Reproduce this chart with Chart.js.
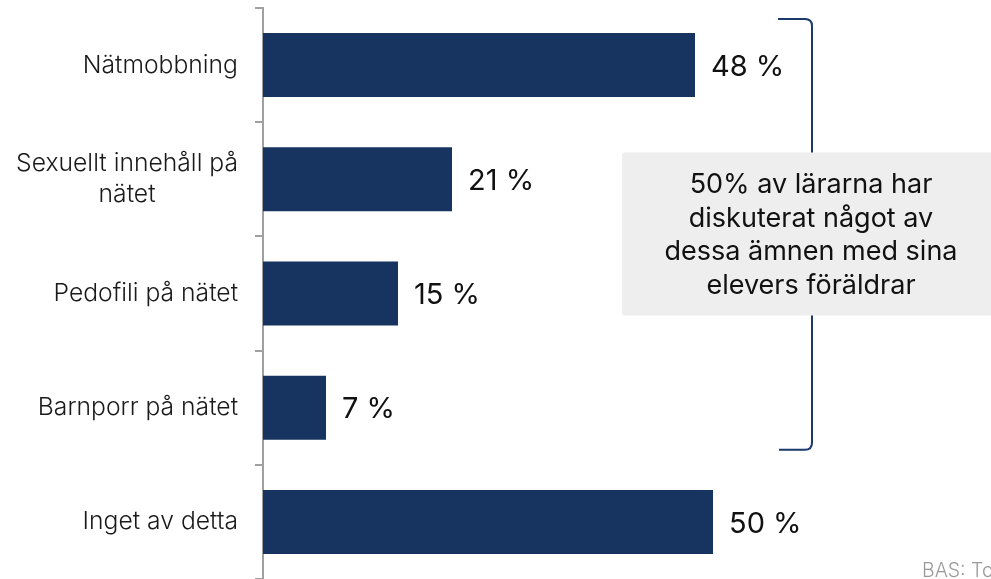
<!DOCTYPE html>
<html>
<head>
<meta charset="utf-8">
<script src="https://cdn.jsdelivr.net/npm/chart.js@4/dist/chart.umd.min.js"></script>
<style>
  html, body { margin: 0; padding: 0; background: #fff; }
  #wrap { width: 991px; height: 579px; position: relative; }
</style>
</head>
<body>
<div id="wrap"><canvas id="c"></canvas></div>
<script>
const categories = [
    ["Nätmobbning"],
    ["Sexuellt innehåll på", "nätet"],
    ["Pedofili på nätet"],
    ["Barnporr på nätet"],
    ["Inget av detta"]
];
const values = [48, 21, 15, 7, 50];
const noteLines = [
    "50% av lärarna har",
    "diskuterat något av",
    "dessa ämnen med sina",
    "elevers föräldrar"
];
const baseNote = "BAS: Totalt";

const FONT = "Inter, 'Open Sans', sans-serif";
const NAVY = "#173460";

// category labels, right edge of block at 238, lines centred within the block
const catLabels = {
    id: "catLabels",
    afterDraw(chart) {
        const ctx = chart.ctx;
        const y = chart.scales.y;
        ctx.save();
        ctx.font = "300 24.7px " + FONT;
        ctx.fillStyle = "#1a1a1a";
        ctx.textBaseline = "middle";
        ctx.textAlign = "center";
        const lh = 31;
        categories.forEach((lines, i) => {
            const w = Math.max(...lines.map(l => ctx.measureText(l).width));
            const cx = 238 - w / 2;
            const cy = y.getPixelForTick(i);
            lines.forEach((l, j) => {
                ctx.fillText(l, cx, cy + (j - (lines.length - 1) / 2) * lh);
            });
        });
        ctx.restore();
    }
};

const valueLabels = {
    id: "valueLabels",
    afterDatasetsDraw(chart) {
        const ctx = chart.ctx;
        const meta = chart.getDatasetMeta(0);
        ctx.save();
        ctx.font = "400 29px " + FONT;
        ctx.fillStyle = "#111";
        ctx.textBaseline = "middle";
        ctx.textAlign = "left";
        meta.data.forEach((bar, i) => {
            ctx.fillText(values[i] + " %", bar.x + 16, bar.y + 2);
        });
        ctx.restore();
    }
};

// bracket over the four topics + grey note box
const note = {
    id: "note",
    afterDraw(chart) {
        const ctx = chart.ctx;
        const x = chart.scales.x, y = chart.scales.y;
        const bx = x.getPixelForValue(61);
        const top = y.getPixelForTick(0) - 46;
        const bot = y.getPixelForTick(3) + 42;
        const r = 7;
        ctx.save();
        ctx.strokeStyle = "#1b3a6b";
        ctx.lineWidth = 2;
        ctx.beginPath();
        ctx.moveTo(bx - 34, top);
        ctx.lineTo(bx - r, top);
        ctx.quadraticCurveTo(bx, top, bx, top + r);
        ctx.lineTo(bx, bot - r);
        ctx.quadraticCurveTo(bx, bot, bx - r, bot);
        ctx.lineTo(bx - 33, bot);
        ctx.stroke();

        const mid = (top + bot) / 2;
        const boxL = x.getPixelForValue(39.9);
        const boxT = mid - 82, boxH = 163;
        ctx.fillStyle = "#eeeeee";
        ctx.beginPath();
        ctx.roundRect(boxL, boxT, 400, boxH, 3);
        ctx.fill();

        ctx.font = "400 27px " + FONT;
        ctx.fillStyle = "#111";
        ctx.textAlign = "center";
        ctx.textBaseline = "middle";
        const lh = 33.5;
        noteLines.forEach((l, j) => {
            ctx.fillText(l, 811, mid + 1 + (j - 1.5) * lh);
        });

        ctx.font = "300 19.5px " + FONT;
        ctx.fillStyle = "#999";
        ctx.textAlign = "left";
        ctx.textBaseline = "alphabetic";
        ctx.fillText(baseNote, 922, 577);
        ctx.restore();
    }
};

new Chart(document.getElementById("c"), {
    type: "bar",
    data: {
        labels: categories,
        datasets: [{
            data: values,
            backgroundColor: NAVY,
            borderWidth: 0,
            barPercentage: 0.56,
            categoryPercentage: 1
        }]
    },
    plugins: [catLabels, valueLabels, note],
    options: {
        indexAxis: "y",
        responsive: true,
        maintainAspectRatio: false,
        animation: false,
        layout: { padding: { top: 8, right: 8, bottom: -1, left: 0 } },
        plugins: { legend: { display: false }, tooltip: { enabled: false } },
        scales: {
            x: { display: false, min: 0, max: 80 },
            y: {
                afterFit(scale) { scale.width = 263; },
                ticks: { display: false },
                border: { display: true, color: "#a0a0a0", width: 2 },
                grid: {
                    offset: true,
                    drawOnChartArea: false,
                    drawTicks: true,
                    tickLength: 8,
                    color: "#a0a0a0",
                    lineWidth: 2
                }
            }
        }
    }
});
</script>
</body>
</html>
